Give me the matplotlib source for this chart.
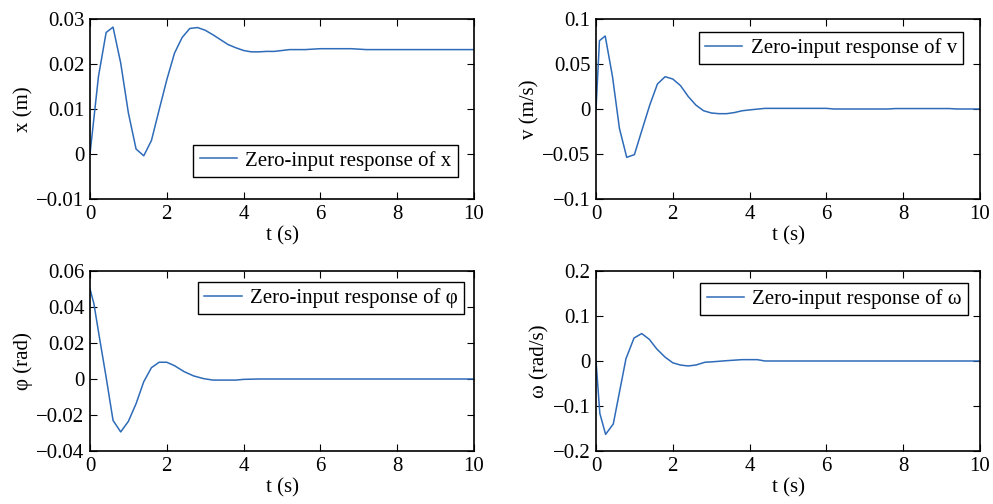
import matplotlib
matplotlib.use('Agg')
import matplotlib.pyplot as plt

plt.rcParams['font.family'] = ['Liberation Serif', 'DejaVu Serif']
plt.rcParams['font.size'] = 15

line_color = '#2e6bb8'

# zero-input responses
t_x = [0, 0.22, 0.42, 0.6, 0.8, 1.0, 1.2, 1.4, 1.6, 1.8, 2.0, 2.2, 2.4, 2.6, 2.8,
       3.0, 3.2, 3.4, 3.6, 3.8, 4.0, 4.2, 4.4, 4.6, 4.8, 5.0, 5.2, 5.6, 6.0, 6.4,
       6.8, 7.2, 8.0, 9.0, 10.0]
x_resp = [0, 0.0172, 0.027, 0.0282, 0.0202, 0.0091, 0.0011, -0.0004, 0.003, 0.0098,
          0.0165, 0.0224, 0.0259, 0.0279, 0.0281, 0.0275, 0.0265, 0.0254, 0.0243,
          0.0236, 0.023, 0.0227, 0.0227, 0.0228, 0.0228, 0.023, 0.0232, 0.0232,
          0.0234, 0.0234, 0.0234, 0.0232, 0.0232, 0.0232, 0.0232]

t_v = [0, 0.09, 0.24, 0.43, 0.61, 0.8, 1.0, 1.2, 1.4, 1.6, 1.8, 2.0, 2.2, 2.4, 2.6,
       2.8, 3.0, 3.2, 3.4, 3.6, 3.8, 4.0, 4.4, 5.0, 6.0, 6.2, 7.6, 7.8, 9.2, 9.4, 10.0]
v_resp = [0, 0.0759, 0.0811, 0.0359, -0.0215, -0.0537, -0.0507, -0.023, 0.0044,
          0.0278, 0.0359, 0.0333, 0.026, 0.014, 0.0044, -0.0019, -0.0044, -0.0052,
          -0.0052, -0.004, -0.002, -0.001, 0.0007, 0.0007, 0.0007, 0, 0, 0.0005,
          0.0005, 0, 0]

t_phi = [0, 0.1, 0.25, 0.42, 0.6, 0.8, 1.0, 1.2, 1.4, 1.6, 1.8, 2.0, 2.2, 2.45,
         2.7, 2.96, 3.2, 3.8, 4.0, 4.4, 10.0]
phi_resp = [0.05, 0.042, 0.0225, 0.001, -0.023, -0.0294, -0.0235, -0.0137, -0.0015,
            0.0063, 0.0093, 0.0093, 0.0074, 0.0041, 0.0017, 0.0002, -0.0006, -0.0006,
            -0.0002, 0, 0]

t_w = [0, 0.1, 0.25, 0.45, 0.78, 0.99, 1.19, 1.39, 1.58, 1.8, 2.0, 2.2, 2.4, 2.6,
       2.84, 3.0, 3.4, 3.8, 4.2, 4.4, 10.0]
w_resp = [0, -0.1166, -0.163, -0.14, 0.005, 0.051, 0.061, 0.048, 0.027, 0.0085,
          -0.004, -0.009, -0.011, -0.009, -0.0027, -0.002, 0.0007, 0.003, 0.003, 0, 0]

panels = [
    (t_x, x_resp, 'x (m)', 'Zero-input response of x', (-0.01, 0.03),
     [-0.01, 0, 0.01, 0.02, 0.03], ['\u22120.01', '0', '0.01', '0.02', '0.03'],
     'lower right', (0.958, 0.122)),
    (t_v, v_resp, 'v (m/s)', 'Zero-input response of v', (-0.1, 0.1),
     [-0.1, -0.05, 0, 0.05, 0.1], ['\u22120.1', '\u22120.05', '0', '0.05', '0.1'],
     'upper right', (0.956, 0.928)),
    (t_phi, phi_resp, '\u03c6 (rad)', 'Zero-input response of \u03c6', (-0.04, 0.06),
     [-0.04, -0.02, 0, 0.02, 0.04, 0.06],
     ['\u22120.04', '\u22120.02', '0', '0.02', '0.04', '0.06'],
     'upper right', (0.974, 0.939)),
    (t_w, w_resp, '\u03c9 (rad/s)', 'Zero-input response of \u03c9', (-0.2, 0.2),
     [-0.2, -0.1, 0, 0.1, 0.2], ['\u22120.2', '\u22120.1', '0', '0.1', '0.2'],
     'upper right', (0.969, 0.933)),
]

boxes = [
    [90 / 993, 305 / 504, 384 / 993, 180 / 504],
    [596 / 993, 305 / 504, 384 / 993, 180 / 504],
    [90 / 993, 53 / 504, 384 / 993, 180 / 504],
    [596 / 993, 53 / 504, 384 / 993, 180 / 504],
]

fig = plt.figure(figsize=(9.93, 5.04), dpi=100)

for box, (t, y, ylab, leg, ylim, yt, ytl, loc, anchor) in zip(boxes, panels):
    ax = fig.add_axes(box)
    ax.plot(t, y, color=line_color, lw=1.1, label=leg)
    ax.set_xlim(0, 10)
    ax.set_ylim(*ylim)
    ax.set_xticks([0, 2, 4, 6, 8, 10])
    ax.set_yticks(yt)
    ax.set_yticklabels(ytl)
    ax.set_xlabel('t (s)', labelpad=2)
    ax.set_ylabel(ylab, labelpad=2)
    ax.tick_params(direction='in', top=True, right=True, length=5, width=0.8, pad=4)
    for s in ax.spines.values():
        s.set_linewidth(1.2)
    lg = ax.legend(loc=loc, bbox_to_anchor=anchor, fancybox=False, framealpha=1,
                   edgecolor='black', handlelength=1.8, handletextpad=0.4,
                   borderpad=0.3, borderaxespad=0)
    lg.get_frame().set_linewidth(1.0)

fig.savefig('out.png', dpi=100)
